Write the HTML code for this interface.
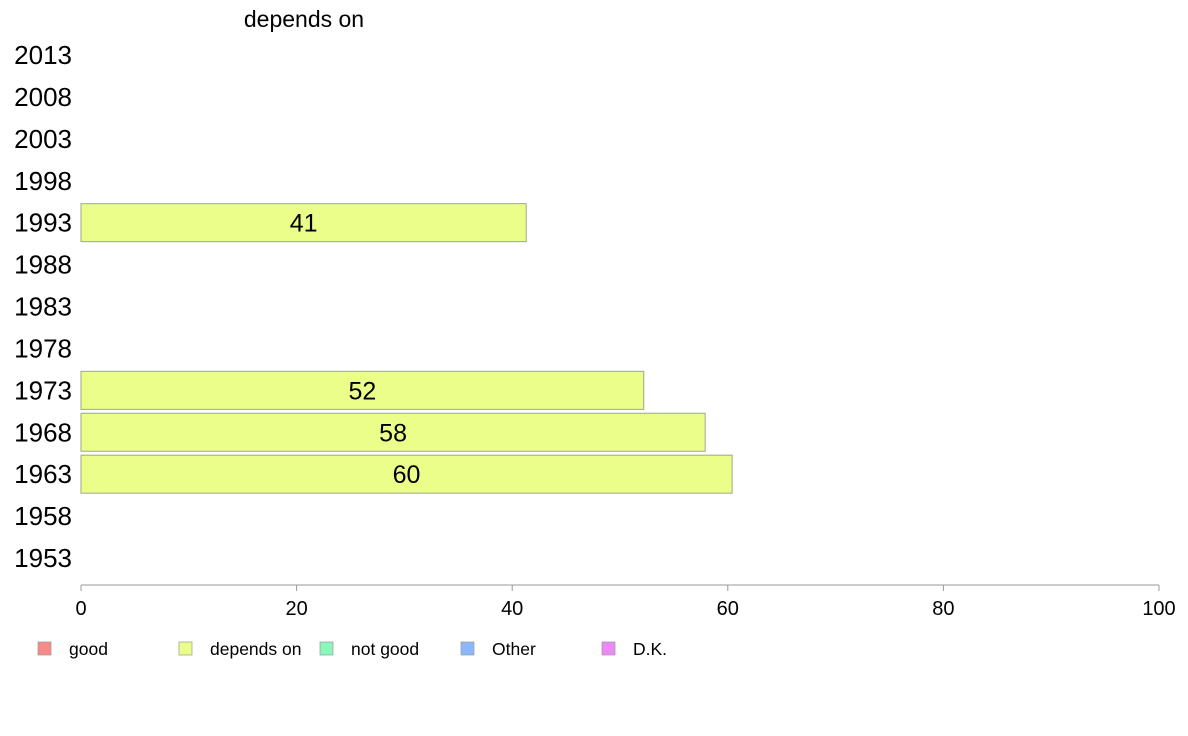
<!DOCTYPE html>
<html><head><meta charset="utf-8"><style>
html,body{margin:0;padding:0;background:#fff;}
svg{display:block;font-family:"Liberation Sans",Arial,sans-serif;}
</style></head><body>
<svg id="chart" width="1188" height="736" viewBox="0 0 1188 736">
<text x="304" y="27" font-size="23" text-anchor="middle">depends on</text>
<g id="rows"></g>
<g id="axis"></g>
<g id="legend"></g>
</svg>
<script>
const years = ["2013","2008","2003","1998","1993","1988","1983","1978","1973","1968","1963","1958","1953"];
const values = [null,null,null,null,41.3,null,null,null,52.2,57.9,60.4,null,null];
const labels = [null,null,null,null,"41",null,null,null,"52","58","60",null,null];
const xTicks = [0,20,40,60,80,100];
const legendNames = ["good","depends on","not good","Other","D.K."];
const legendColors = ["#f88a8a","#ebfe8a","#8af8b8","#8ab8f8","#ea8af8"];

const NS="http://www.w3.org/2000/svg";
const x0=81,x1=1159,yTop=55,yBot=558;
const xs=v=>x0+(v/100)*(x1-x0);
const ys=i=>yTop+i*(yBot-yTop)/(years.length-1);
function mk(tag,attrs,parent){const e=document.createElementNS(NS,tag);for(const k in attrs)e.setAttribute(k,attrs[k]);parent.appendChild(e);return e;}
const rows=document.getElementById('rows');
years.forEach((y,i)=>{
  const cy=ys(i);
  const t=mk('text',{x:72,y:cy+9,'font-size':26,'text-anchor':'end'},rows);
  t.textContent=y;
  
  
  if(values[i]!=null){
    const h=38;
    const r=mk('rect',{x:x0,y:cy-h/2,width:xs(values[i])-x0,height:h,fill:'#ebfe8a',stroke:'#9aa88a','stroke-width':1},rows);
    
    
    const l=mk('text',{x:(x0+xs(values[i]))/2,y:cy+9,'font-size':25,'text-anchor':'middle'},rows);
    l.textContent=labels[i];
    
    
  }
});
const ax=document.getElementById('axis');
mk('line',{x1:x0,x2:x1,y1:585,y2:585,stroke:'#999','stroke-width':1},ax);
xTicks.forEach(v=>{
  mk('line',{x1:xs(v),x2:xs(v),y1:585,y2:591,stroke:'#999'},ax);
  const t=mk('text',{x:xs(v),y:615,'font-size':20,'text-anchor':'middle'},ax);
  t.textContent=v;
  
  
});
const lg=document.getElementById('legend');
legendNames.forEach((n,i)=>{
  const lx=38+i*141;
  const g=mk('g',{},lg);
  
  
  mk('rect',{x:lx,y:642,width:13,height:13,fill:legendColors[i],stroke:'#999','stroke-width':0.7},g);
  const t=mk('text',{x:lx+31,y:655,'font-size':17.5},g);
  t.textContent=n;
});
</script>
</body></html>
